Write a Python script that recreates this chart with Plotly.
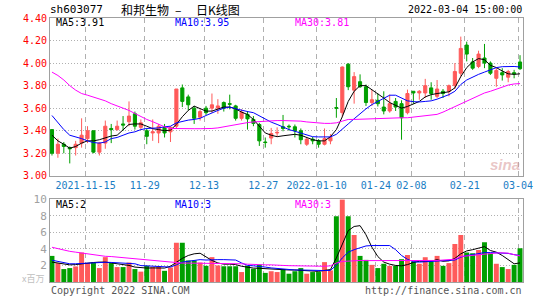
import plotly.graph_objects as go

# ---------------- data ----------------
dates = [
    "2021-11-05", "2021-11-08", "2021-11-09", "2021-11-10", "2021-11-11", "2021-11-12",
    "2021-11-15", "2021-11-16", "2021-11-17", "2021-11-18", "2021-11-19",
    "2021-11-22", "2021-11-23", "2021-11-24", "2021-11-25", "2021-11-26",
    "2021-11-29", "2021-11-30", "2021-12-01", "2021-12-02", "2021-12-03",
    "2021-12-06", "2021-12-07", "2021-12-08", "2021-12-09", "2021-12-10",
    "2021-12-13", "2021-12-14", "2021-12-15", "2021-12-16", "2021-12-17",
    "2021-12-20", "2021-12-21", "2021-12-22", "2021-12-23", "2021-12-24",
    "2021-12-27", "2021-12-28", "2021-12-29", "2021-12-30", "2021-12-31",
    "2022-01-04", "2022-01-05", "2022-01-06", "2022-01-07",
    "2022-01-10", "2022-01-11", "2022-01-12", "2022-01-13", "2022-01-14",
    "2022-01-17", "2022-01-18", "2022-01-19", "2022-01-20", "2022-01-21",
    "2022-01-24", "2022-01-25", "2022-01-26", "2022-01-27", "2022-01-28",
    "2022-02-07", "2022-02-08", "2022-02-09", "2022-02-10", "2022-02-11",
    "2022-02-14", "2022-02-15", "2022-02-16", "2022-02-17", "2022-02-18",
    "2022-02-21", "2022-02-22", "2022-02-23", "2022-02-24", "2022-02-25",
    "2022-02-28", "2022-03-01", "2022-03-02", "2022-03-03", "2022-03-04",
]

opens = [3.41, 3.20, 3.28, 3.25, 3.25, 3.29, 3.33, 3.40, 3.21, 3.29,
         3.42, 3.41, 3.46, 3.48, 3.55, 3.43, 3.40, 3.38, 3.38, 3.43,
         3.39, 3.44, 3.78, 3.70, 3.60, 3.52, 3.60, 3.60, 3.60, 3.65,
         3.64, 3.62, 3.51, 3.545, 3.50, 3.455, 3.30, 3.335, 3.38, 3.435,
         3.44, 3.435, 3.40, 3.28, 3.325, 3.31, 3.28, 3.31, 3.605, 3.56,
         3.99, 3.76, 3.835, 3.79, 3.65, 3.67, 3.61, 3.575, 3.66, 3.64,
         3.56, 3.75, 3.735, 3.735, 3.78, 3.705, 3.75, 3.75, 3.80, 3.91,
         4.16, 4.01, 3.97, 4.045, 4.00, 3.865, 3.915, 3.875, 3.915, 4.01]
highs = [3.41, 3.33, 3.30, 3.26, 3.31, 3.51, 3.44, 3.40, 3.30, 3.49,
         3.46, 3.49, 3.53, 3.66, 3.57, 3.50, 3.42, 3.50, 3.46, 3.46,
         3.44, 3.77, 3.81, 3.72, 3.62, 3.59, 3.62, 3.73, 3.68, 3.66,
         3.72, 3.63, 3.59, 3.575, 3.53, 3.47, 3.34, 3.425, 3.43, 3.54,
         3.455, 3.455, 3.42, 3.34, 3.345, 3.325, 3.42, 3.37, 3.69, 3.97,
         4.00, 3.92, 3.90, 3.81, 3.765, 3.73, 3.75, 3.72, 3.69, 3.67,
         3.765, 3.75, 3.76, 3.86, 3.83, 3.85, 3.77, 3.81, 4.00, 4.235,
         4.19, 4.045, 4.11, 4.17, 4.015, 3.955, 3.955, 3.94, 3.94, 4.07]
lows = [3.18, 3.16, 3.20, 3.11, 3.18, 3.25, 3.29, 3.20, 3.18, 3.24,
        3.29, 3.40, 3.40, 3.44, 3.41, 3.41, 3.28, 3.31, 3.29, 3.34,
        3.30, 3.42, 3.61, 3.58, 3.46, 3.49, 3.54, 3.56, 3.55, 3.57,
        3.59, 3.49, 3.49, 3.41, 3.44, 3.265, 3.25, 3.28, 3.35, 3.395,
        3.40, 3.34, 3.28, 3.265, 3.28, 3.25, 3.27, 3.28, 3.515, 3.52,
        3.76, 3.64, 3.78, 3.62, 3.62, 3.615, 3.545, 3.56, 3.575, 3.32,
        3.545, 3.64, 3.675, 3.69, 3.675, 3.69, 3.69, 3.705, 3.77, 3.88,
        4.015, 3.94, 3.955, 3.955, 3.895, 3.79, 3.845, 3.83, 3.865, 3.94]
closes = [3.20, 3.28, 3.26, 3.24, 3.28, 3.36, 3.40, 3.21, 3.29, 3.44,
          3.41, 3.44, 3.45, 3.53, 3.44, 3.47, 3.35, 3.39, 3.44, 3.38,
          3.43, 3.77, 3.66, 3.63, 3.51, 3.57, 3.56, 3.63, 3.62, 3.60,
          3.635, 3.51, 3.565, 3.505, 3.465, 3.31, 3.295, 3.375, 3.385, 3.42,
          3.435, 3.40, 3.32, 3.325, 3.31, 3.28, 3.33, 3.34, 3.60, 3.965,
          3.79, 3.88, 3.79, 3.65, 3.675, 3.64, 3.575, 3.64, 3.61, 3.515,
          3.73, 3.735, 3.75, 3.80, 3.73, 3.77, 3.73, 3.80, 3.925, 4.13,
          4.08, 3.955, 4.08, 4.00, 3.91, 3.935, 3.895, 3.925, 3.905, 3.95]

ma5 = [3.36, 3.31, 3.28, 3.245, 3.26, 3.29, 3.31, 3.31, 3.32, 3.338,
       3.353, 3.36, 3.41, 3.456, 3.46, 3.46, 3.44, 3.418, 3.41, 3.40,
       3.405, 3.456, 3.524, 3.58, 3.618, 3.594, 3.574, 3.574, 3.59, 3.61,
       3.61, 3.594, 3.565, 3.544, 3.50, 3.44, 3.38, 3.36, 3.347, 3.355,
       3.36, 3.368, 3.36, 3.338, 3.32, 3.31, 3.31, 3.347, 3.41, 3.524,
       3.66, 3.75, 3.80, 3.80, 3.765, 3.73, 3.69, 3.65, 3.625, 3.60,
       3.615, 3.64, 3.66, 3.70, 3.72, 3.73, 3.735, 3.745, 3.78, 3.88,
       3.96, 4.01, 4.04, 4.03, 3.98, 3.96, 3.93, 3.905, 3.90, 3.905]
ma10 = [3.535, 3.47, 3.41, 3.36, 3.347, 3.33, 3.31, 3.295, 3.29, 3.30,
        3.33, 3.34, 3.36, 3.38, 3.39, 3.41, 3.42, 3.423, 3.425, 3.435,
        3.44, 3.47, 3.485, 3.494, 3.50, 3.51, 3.535, 3.56, 3.58, 3.60,
        3.61, 3.595, 3.58, 3.57, 3.56, 3.53, 3.505, 3.476, 3.456, 3.432,
        3.41, 3.395, 3.38, 3.36, 3.347, 3.345, 3.345, 3.345, 3.368, 3.41,
        3.46, 3.506, 3.553, 3.594, 3.632, 3.66, 3.69, 3.715, 3.715, 3.69,
        3.665, 3.658, 3.655, 3.66, 3.665, 3.68, 3.70, 3.72, 3.75, 3.81,
        3.85, 3.876, 3.90, 3.92, 3.94, 3.96, 3.968, 3.97, 3.97, 3.965]
ma30 = [3.92, 3.89, 3.85, 3.80, 3.76, 3.73, 3.715, 3.70, 3.68, 3.665,
        3.64, 3.62, 3.60, 3.58, 3.553, 3.525, 3.50, 3.48, 3.455, 3.435,
        3.42, 3.418, 3.418, 3.418, 3.418, 3.418, 3.418, 3.42, 3.425, 3.435,
        3.445, 3.455, 3.465, 3.472, 3.478, 3.482, 3.486, 3.49, 3.49, 3.49,
        3.49, 3.49, 3.485, 3.478, 3.472, 3.47, 3.465, 3.465, 3.47, 3.485,
        3.50, 3.50, 3.502, 3.505, 3.51, 3.512, 3.512, 3.512, 3.513, 3.515,
        3.515, 3.52, 3.53, 3.535, 3.54, 3.545, 3.565, 3.59, 3.615, 3.64,
        3.66, 3.69, 3.715, 3.735, 3.75, 3.77, 3.79, 3.805, 3.815, 3.818]

volume = [3.15, 2.28, 1.56, 1.68, 1.88, 3.55, 2.30, 2.35, 1.68, 3.00,
          2.28, 1.80, 1.80, 2.35, 1.56, 1.25, 1.95, 1.80, 1.85, 1.35,
          1.75, 4.75, 4.75, 2.60, 2.60, 2.35, 1.95, 3.00, 2.00, 1.90,
          1.90, 1.90, 1.20, 1.95, 1.60, 2.10, 1.10, 1.30, 1.20, 1.56,
          1.00, 1.30, 1.68, 1.00, 1.20, 1.20, 2.40, 1.40, 7.94, 9.95,
          7.94, 5.66, 3.15, 2.67, 2.07, 1.68, 2.20, 1.95, 1.95, 2.75,
          3.27, 2.47, 2.20, 2.99, 2.47, 3.15, 1.95, 2.28, 4.60, 5.66,
          3.55, 3.47, 3.87, 4.79, 3.47, 2.20, 1.80, 1.56, 2.07, 4.07]
vma5 = [2.4, 2.3, 2.15, 2.07, 2.1, 2.2, 2.27, 2.35, 2.4, 2.4,
        2.3, 2.2, 2.1, 2.0, 1.8, 1.7, 1.68, 1.7, 1.7, 1.68,
        1.9, 2.4, 2.85, 3.2, 3.4, 3.47, 3.0, 2.6, 2.3, 2.15,
        2.15, 2.1, 1.9, 1.75, 1.68, 1.65, 1.6, 1.55, 1.5, 1.48,
        1.45, 1.45, 1.4, 1.35, 1.3, 1.28, 1.4, 1.5, 2.9, 4.5,
        6.2, 6.7, 6.8, 5.7, 4.2, 3.07, 2.4, 2.15, 2.0, 1.95,
        2.1, 2.35, 2.5, 2.5, 2.5, 2.7, 2.5, 2.55, 2.85, 3.4,
        3.75, 3.9, 4.1, 4.27, 3.8, 3.6, 3.2, 2.7, 2.2, 2.3]
vma10 = [2.63, 2.5, 2.35, 2.2, 2.2, 2.25, 2.27, 2.3, 2.33, 2.38,
         2.36, 2.3, 2.3, 2.25, 2.2, 1.98, 1.95, 1.95, 1.9, 1.8,
         1.8, 2.07, 2.4, 2.5, 2.6, 2.7, 2.65, 2.7, 2.7, 2.7,
         2.7, 2.65, 2.3, 2.0, 1.95, 1.9, 1.8, 1.7, 1.62, 1.6,
         1.52, 1.45, 1.45, 1.42, 1.38, 1.36, 1.38, 1.4, 2.05, 2.9,
         3.6, 3.9, 4.1, 4.35, 4.4, 4.4, 4.4, 4.4, 3.9, 3.2,
         2.74, 2.45, 2.4, 2.45, 2.5, 2.55, 2.55, 2.6, 2.65, 3.0,
         3.2, 3.3, 3.4, 3.55, 3.55, 3.5, 3.5, 3.45, 3.3, 3.2]
vma30 = [4.19, 4.0, 3.87, 3.7, 3.6, 3.5, 3.35, 3.27, 3.2, 3.1,
         3.07, 3.0, 2.93, 2.87, 2.8, 2.72, 2.65, 2.55, 2.48, 2.42,
         2.37, 2.33, 2.28, 2.28, 2.28, 2.28, 2.28, 2.28, 2.28, 2.26,
         2.24, 2.22, 2.2, 2.15, 2.1, 2.07, 2.07, 2.07, 2.07, 2.0,
         1.97, 1.95, 1.93, 1.9, 1.88, 1.88, 1.9, 1.95, 2.28, 2.48,
         2.55, 2.6, 2.6, 2.58, 2.58, 2.57, 2.57, 2.56, 2.56, 2.55,
         2.55, 2.56, 2.57, 2.58, 2.59, 2.6, 2.65, 2.68, 2.75, 3.07,
         3.15, 3.27, 3.32, 3.39, 3.45, 3.5, 3.52, 3.48, 3.3, 3.15]

tick_dates = ["2021-11-15", "2021-11-29", "2021-12-13", "2021-12-27", "2022-01-10",
              "2022-01-24", "2022-02-08", "2022-02-21", "2022-03-04"]
tick_labels = ["2021-11-15", "11-29", "12-13", "12-27", "2022-01-10",
               "01-24", "02-08", "02-21", "03-04"]
price_ticks = [3.00, 3.20, 3.40, 3.60, 3.80, 4.00, 4.20, 4.40]
vol_ticks = [2, 4, 6, 8, 10]

# ---------------- styling ----------------
RED = "#ff5a5a"
GREEN = "#009f00"
GRID = "#b0b0b0"
BORDER = "#a0a0a0"
MONO = "DejaVu Sans Mono"
CJK = "Noto Sans CJK SC"

W, H = 545, 300
ML, MR, MT, MB = 50, 16, 18, 16
PW, PH = W - ML - MR, H - MT - MB


def py(p):  # pixel y -> paper y
    return (H - MB - p) / PH


def px(p):  # pixel x -> paper x
    return (p - ML) / PW


x = list(range(len(dates)))
vol_colors = [RED if c >= o else GREEN for o, c in zip(opens, closes)]
grid_x = [dates.index(d) - 1 / 3 for d in tick_dates]

fig = go.Figure()
fig.add_trace(go.Candlestick(
    x=x, open=opens, high=highs, low=lows, close=closes,
    increasing=dict(line=dict(color=RED, width=1), fillcolor=RED),
    decreasing=dict(line=dict(color=GREEN, width=1), fillcolor=GREEN),
    whiskerwidth=0, xaxis="x", yaxis="y", hoverinfo="skip", showlegend=False))
for vals, col in [(ma5, "#000000"), (ma10, "#0000ff"), (ma30, "#ff00ff")]:
    fig.add_trace(go.Scatter(x=x, y=vals, mode="lines", line=dict(color=col, width=1),
                             xaxis="x", yaxis="y", hoverinfo="skip", showlegend=False))

fig.add_trace(go.Bar(x=x, y=volume, marker=dict(color=vol_colors, line=dict(width=0)),
                     xaxis="x2", yaxis="y2", hoverinfo="skip", showlegend=False))
for vals, col in [(vma5, "#000000"), (vma10, "#0000ff"), (vma30, "#ff00ff")]:
    fig.add_trace(go.Scatter(x=x, y=vals, mode="lines", line=dict(color=col, width=1),
                             xaxis="x2", yaxis="y2", hoverinfo="skip", showlegend=False))

xcommon = dict(range=[-1 / 3, 79.5], tickmode="array", tickvals=grid_x,
               showgrid=True, gridcolor=GRID, griddash="5px,4px", gridwidth=1,
               showline=True, mirror=True, linecolor=BORDER, linewidth=1,
               ticks="", zeroline=False, fixedrange=True)

fig.update_layout(
    width=W, height=H, margin=dict(l=ML, r=MR, t=MT, b=MB),
    paper_bgcolor="white", plot_bgcolor="white", showlegend=False,
    bargap=1 / 6, boxgap=0.25,
    xaxis=dict(**xcommon, domain=[0, 1], anchor="y", ticktext=tick_labels,
               tickfont=dict(family=MONO, size=10, color="#1a7dc4"),
               rangeslider=dict(visible=False)),
    xaxis2=dict(**xcommon, domain=[0, 1], anchor="y2", showticklabels=False),
    yaxis=dict(domain=[py(177), 1], range=[3.0, 4.4], tickmode="array",
               tickvals=price_ticks, tickformat=".2f",
               tickfont=dict(family=MONO, size=10, color="#ff0000"),
               showgrid=True, gridcolor=GRID, griddash="1px,2px",
               showline=True, mirror=True, linecolor=BORDER, linewidth=1,
               ticks="", zeroline=False, fixedrange=True),
    yaxis2=dict(domain=[0, py(200.5)], range=[0, 10], tickmode="array",
                tickvals=vol_ticks,
                tickfont=dict(family=MONO, size=11, color="#a0a0a0"),
                showgrid=True, gridcolor=GRID, griddash="1px,2px",
                showline=True, mirror=True, linecolor=BORDER, linewidth=1,
                ticks="", zeroline=False, fixedrange=True),
)

ann = []


def text(t, xp, yp, color, size=10, family=MONO, xanchor="left", **kw):
    ann.append(dict(text=t, x=px(xp), y=py(yp), xref="paper", yref="paper",
                    xanchor=xanchor, yanchor="middle", showarrow=False,
                    font=dict(family=family, size=size, color=color), **kw))


text("sh603077", 48, 9, "#000000", size=11)
text("和邦生物", 120, 9, "#000000", size=12, family=CJK)
text("–", 180, 9, "#000000", size=12, family=CJK, xanchor="center")
text("日K线图", 196, 9, "#000000", size=12, family=CJK)
text("2022-03-04 15:00:00", 530, 9, "#000000", size=10, xanchor="right")

text("MA5:3.91", 54, 23, "#000000")
text("MA10:3.95", 175, 23, "#0000ff")
text("MA30:3.81", 296, 23, "#ff00ff")

text("MA5:2", 54, 206, "#000000")
text("MA10:3", 175, 206, "#0000ff")
text("MA30:3", 296, 206, "#ff00ff")

text("x百万", 46, 280, "#c0c0c0", size=9, family=CJK, xanchor="right")
text("Copyright 2022 SINA.COM", 49, 293, "#555555")
text("http://finance.sina.com.cn", 530, 293, "#555555", xanchor="right")
text("<b><i>sina</i></b>", 511, 166, "rgba(215,150,150,0.55)", size=15,
     family="Liberation Sans", xanchor="center")

fig.update_layout(annotations=ann)
fig.write_html("out.html")
